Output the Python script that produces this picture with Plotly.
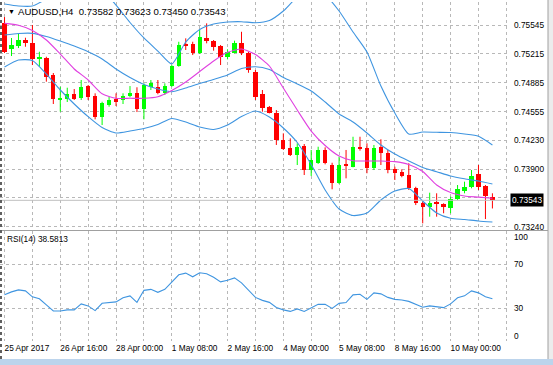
import plotly.graph_objects as go

# ---------------- data ----------------
opens = [0.75568, 0.75271, 0.75305, 0.75374, 0.75343, 0.75160, 0.75172, 0.74974, 0.74700, 0.74700,
         0.74754, 0.74708, 0.74848, 0.74734, 0.74498, 0.74631, 0.74697, 0.74689, 0.74734, 0.74772,
         0.74582, 0.74840, 0.74834, 0.74765, 0.74848, 0.75077, 0.75328, 0.75325, 0.75222, 0.75400,
         0.75366, 0.75305, 0.75183, 0.75229, 0.75343, 0.75229, 0.75012, 0.74754, 0.74605, 0.74544,
         0.74232, 0.74137, 0.74060, 0.74163, 0.73889, 0.73972, 0.74118, 0.73946, 0.73737, 0.73958,
         0.73927, 0.74155, 0.74137, 0.73909, 0.74155, 0.74080, 0.73897, 0.73870, 0.73832, 0.73680,
         0.73509, 0.73470, 0.73516, 0.73501, 0.73452, 0.73555, 0.73653, 0.73692, 0.73840, 0.73706,
         0.73582]
highs = [0.75636, 0.75397, 0.75454, 0.75400, 0.75545, 0.75240, 0.75183, 0.74997, 0.74840, 0.74829,
         0.74814, 0.74917, 0.74860, 0.74765, 0.74669, 0.74726, 0.74765, 0.74765, 0.74848, 0.74834,
         0.74879, 0.74917, 0.74917, 0.74879, 0.75088, 0.75354, 0.75393, 0.75354, 0.75488, 0.75564,
         0.75374, 0.75317, 0.75268, 0.75366, 0.75468, 0.75240, 0.75031, 0.74803, 0.74620, 0.74574,
         0.74308, 0.74251, 0.74194, 0.74186, 0.74118, 0.74155, 0.74148, 0.73972, 0.74041, 0.74118,
         0.74269, 0.74269, 0.74194, 0.74175, 0.74240, 0.74118, 0.73927, 0.73897, 0.73966, 0.73698,
         0.73527, 0.73630, 0.73623, 0.73509, 0.73585, 0.73718, 0.73756, 0.73889, 0.73946, 0.73718,
         0.73623]
lows = [0.75225, 0.75191, 0.75282, 0.75297, 0.75088, 0.75069, 0.74898, 0.74643, 0.74555, 0.74666,
        0.74689, 0.74689, 0.74689, 0.74468, 0.74403, 0.74612, 0.74620, 0.74643, 0.74719, 0.74551,
        0.74468, 0.74803, 0.74754, 0.74746, 0.74840, 0.75069, 0.75260, 0.75202, 0.75214, 0.75336,
        0.75252, 0.75088, 0.75153, 0.75222, 0.75202, 0.75000, 0.74689, 0.74555, 0.74536, 0.74175,
        0.74118, 0.74049, 0.73946, 0.73832, 0.73821, 0.73958, 0.73954, 0.73669, 0.73729, 0.73794,
        0.73920, 0.74110, 0.73852, 0.73889, 0.73946, 0.73852, 0.73775, 0.73806, 0.73661, 0.73489,
        0.73280, 0.73356, 0.73356, 0.73395, 0.73395, 0.73547, 0.73623, 0.73680, 0.73661, 0.73329,
        0.73450]
closes = [0.75237, 0.75317, 0.75374, 0.75339, 0.75153, 0.75176, 0.74955, 0.74697, 0.74711, 0.74754,
          0.74700, 0.74840, 0.74726, 0.74498, 0.74651, 0.74689, 0.74669, 0.74734, 0.74772, 0.74589,
          0.74860, 0.74879, 0.74765, 0.74848, 0.75077, 0.75317, 0.75305, 0.75222, 0.75405, 0.75366,
          0.75297, 0.75183, 0.75240, 0.75343, 0.75229, 0.75031, 0.74726, 0.74594, 0.74544, 0.74232,
          0.74129, 0.74060, 0.74155, 0.73889, 0.74003, 0.74118, 0.73966, 0.73737, 0.73946, 0.73938,
          0.74155, 0.74133, 0.73909, 0.74137, 0.74080, 0.73889, 0.73858, 0.73821, 0.73680, 0.73509,
          0.73470, 0.73516, 0.73501, 0.73463, 0.73555, 0.73669, 0.73698, 0.73821, 0.73698, 0.73592,
          0.73543]

# indicator lines, sampled every second bar
line_bars = list(range(0, 71, 2))
bb_upper = [0.75785, 0.75762, 0.75762, 0.75842, 0.75922, 0.75968, 0.75979, 0.75939, 0.75773, 0.75574,
            0.75397, 0.75248, 0.75100, 0.75351, 0.75494, 0.75556, 0.75579, 0.75583, 0.75571, 0.75596,
            0.75705, 0.75865, 0.75945, 0.75888, 0.75705, 0.75465, 0.75237, 0.74848, 0.74540, 0.74300,
            0.74323, 0.74320, 0.74317, 0.74300, 0.74274, 0.74175]
bb_middle = [0.75431, 0.75448, 0.75450, 0.75414, 0.75362, 0.75305, 0.75240, 0.75157, 0.75043, 0.74945,
             0.74866, 0.74814, 0.74783, 0.74826, 0.74877, 0.74923, 0.74974, 0.75048, 0.75069, 0.75037,
             0.74945, 0.74871, 0.74791, 0.74666, 0.74529, 0.74437, 0.74312, 0.74175, 0.74072, 0.73992,
             0.73918, 0.73870, 0.73821, 0.73789, 0.73763, 0.73729]
bb_lower = [0.75065, 0.75145, 0.75140, 0.74985, 0.74803, 0.74643, 0.74498, 0.74374, 0.74312, 0.74334,
            0.74363, 0.74409, 0.74477, 0.74437, 0.74380, 0.74352, 0.74403, 0.74500, 0.74563, 0.74494,
            0.74369, 0.74203, 0.73952, 0.73661, 0.73444, 0.73369, 0.73398, 0.73547, 0.73649, 0.73678,
            0.73535, 0.73398, 0.73338, 0.73324, 0.73307, 0.73295]
ma_line = [0.75564, 0.75542, 0.75482, 0.75374, 0.75214, 0.75043, 0.74917, 0.74760, 0.74708, 0.74708,
           0.74708, 0.74726, 0.74797, 0.74894, 0.75014, 0.75134, 0.75233, 0.75271, 0.75208, 0.75077,
           0.74826, 0.74574, 0.74334, 0.74169, 0.74049, 0.73995, 0.73992, 0.73992, 0.73985, 0.73952,
           0.73872, 0.73718, 0.73631, 0.73592, 0.73579, 0.73566]

rsi = [42.1, 44.8, 46.6, 45.7, 40.3, 38.5, 33.0, 27.5, 27.5, 28.5,
       28.5, 33.9, 32.1, 27.8, 34.5, 34.8, 35.7, 39.4, 41.2, 35.3,
       46.2, 47.1, 44.4, 47.1, 53.9, 60.3, 61.8, 58.5, 62.1, 61.2,
       58.0, 53.9, 55.3, 57.5, 53.0, 46.6, 39.8, 37.1, 35.3, 30.7,
       28.5, 27.1, 29.4, 27.1, 30.0, 33.5, 33.5, 29.8, 34.4, 35.1,
       42.1, 42.7, 38.0, 43.9, 43.0, 39.8, 38.0, 37.5, 36.2, 33.5,
       30.9, 32.1, 31.5, 30.5, 33.9, 39.4, 41.2, 45.7, 43.9, 40.3,
       38.58]

time_label_bars = [0, 8, 16, 24, 32, 40, 48, 56, 64]
time_labels = ["25 Apr 2017", "26 Apr 16:00", "28 Apr 00:00", "1 May 08:00", "2 May 16:00",
               "4 May 00:00", "5 May 08:00", "8 May 16:00", "10 May 00:00"]
price_ticks = [0.75545, 0.75215, 0.74885, 0.74555, 0.74230, 0.73900, 0.73570, 0.73240]
price_tick_text = ["0.75545", "0.75215", "0.74885", "0.74555", "0.74230", "0.73900", "", "0.73240"]
rsi_ticks = [70, 30]
last_price = 0.73543
title_text = "AUDUSD,H4&nbsp; 0.73582&nbsp;0.73623&nbsp;0.73450&nbsp;0.73543"
rsi_text = "RSI(14) 38.5813"

# ---------------- styling ----------------
W, H = 553, 365
FONT = "Liberation Sans"
FS = 8.3
UP, DOWN = "#00ff00", "#ff0000"
BAND = "#3f95e0"
MAG = "#e040e0"
GRID = "#b8b8b8"

def px(v):
    return v / W

def py(v):
    return 1 - v / H

n = len(opens)
xs = list(range(n))
fig = go.Figure()

# wicks
for col, cond in ((UP, lambda o, c: c >= o), (DOWN, lambda o, c: c < o)):
    wx, wy = [], []
    for i in xs:
        if cond(opens[i], closes[i]):
            wx += [i, i, None]
            wy += [lows[i], highs[i], None]
    fig.add_trace(go.Scatter(x=wx, y=wy, mode="lines", line=dict(color=col, width=1),
                             hoverinfo="skip", showlegend=False, xaxis="x", yaxis="y"))

# bodies
base = [min(o, c) for o, c in zip(opens, closes)]
height = [max(abs(c - o), 0.00009) for o, c in zip(opens, closes)]
colors = [UP if c >= o else DOWN for o, c in zip(opens, closes)]
fig.add_trace(go.Bar(x=xs, y=height, base=base, width=0.62, marker=dict(color=colors, line=dict(width=0)),
                     showlegend=False, xaxis="x", yaxis="y"))

for series, col in ((bb_upper, BAND), (bb_middle, BAND), (bb_lower, BAND), (ma_line, MAG)):
    fig.add_trace(go.Scatter(x=line_bars, y=series, mode="lines",
                             line=dict(color=col, width=1.1, shape="spline", smoothing=0.6),
                             showlegend=False, xaxis="x", yaxis="y"))

fig.add_trace(go.Scatter(x=xs, y=rsi, mode="lines", line=dict(color=BAND, width=1.1),
                         showlegend=False, xaxis="x2", yaxis="y2"))

XR = [-0.65, 72.38]
XDOM = [0, px(509)]
grid_x = list(range(0, 73, 4))
grid_text = []
for g in grid_x:
    grid_text.append(time_labels[time_label_bars.index(g)] if g in time_label_bars else "")

common_x = dict(range=XR, domain=XDOM, tickvals=grid_x, showgrid=True, gridcolor=GRID,
                griddash="3px,3px", gridwidth=1, zeroline=False, showline=False, ticks="",
                fixedrange=True, automargin=False)

fig.update_layout(
    width=W, height=H, margin=dict(l=0, r=0, t=0, b=0, autoexpand=False),
    paper_bgcolor="white", plot_bgcolor="white", bargap=0,
    font=dict(family=FONT, size=FS, color="black"),
    xaxis=dict(**common_x, anchor="y", showticklabels=False),
    xaxis2=dict(**common_x, anchor="y2", ticktext=grid_text, showticklabels=True, tickangle=0,
                ticklabelposition="outside right", tickfont=dict(size=FS)),
    yaxis=dict(domain=[py(230), py(2)], range=[0.73204, 0.75808], side="right",
               tickvals=price_ticks, ticktext=price_tick_text, showgrid=True, gridcolor=GRID,
               griddash="3px,3px", zeroline=False, showline=False, ticks="", ticklabelstandoff=4,
               anchor="x", automargin=False, fixedrange=True),
    yaxis2=dict(domain=[py(341.3), py(231)], range=[0, 100], side="right", tickvals=rsi_ticks,
                showgrid=True, gridcolor=GRID, griddash="3px,3px", zeroline=False, showline=False,
                ticks="", ticklabelstandoff=4, anchor="x2", automargin=False, fixedrange=True),
)

shapes = [
    # current price line
    dict(type="line", xref="paper", yref="y", x0=0, x1=px(509), y0=last_price, y1=last_price,
         line=dict(color="#c0c0c0", width=1)),
    # panel separator
    dict(type="line", xref="paper", yref="paper", x0=0, x1=px(548), y0=py(230.5), y1=py(230.5),
         line=dict(color="#a0a0a0", width=1)),
    # right frame
    dict(type="rect", xref="paper", yref="paper", x0=px(548), x1=1, y0=0, y1=1,
         fillcolor="#ececec", line=dict(width=0), layer="below"),
    dict(type="line", xref="paper", yref="paper", x0=px(548), x1=px(548), y0=0, y1=1,
         line=dict(color="#a0a0a0", width=1), layer="below"),
    # left frame
    dict(type="line", xref="paper", yref="paper", x0=px(1), x1=px(1), y0=0, y1=1,
         line=dict(color="#606060", width=2, dash="dot")),
    # bottom band
    dict(type="rect", xref="paper", yref="paper", x0=0, x1=1, y0=0, y1=py(359),
         fillcolor="#bcd4ec", line=dict(width=0)),
]
fig.update_layout(shapes=shapes)

annotations = [
    dict(text="\u25bc", xref="paper", yref="paper", x=px(6), y=py(12), xanchor="left",
         yanchor="middle", showarrow=False, font=dict(size=7)),
    dict(text=title_text, xref="paper", yref="paper", x=px(16), y=py(12), xanchor="left",
         yanchor="middle", showarrow=False, font=dict(size=9.6)),
    dict(text=rsi_text, xref="paper", yref="paper", x=px(5), y=py(239), xanchor="left",
         yanchor="middle", showarrow=False),
    dict(text="0.73543", xref="paper", yref="y", x=px(510), y=last_price, xanchor="left",
         yanchor="middle", showarrow=False, bgcolor="black", font=dict(color="white"), borderpad=1),
    dict(text="100", xref="paper", yref="paper", x=px(512), y=py(237), xanchor="left",
         yanchor="middle", showarrow=False),
    dict(text="0", xref="paper", yref="paper", x=px(512), y=py(336), xanchor="left",
         yanchor="middle", showarrow=False),
]
fig.update_layout(annotations=annotations)

fig.write_html("out.html", config={"displayModeBar": False},
               post_script="document.body.style.margin='0';document.body.style.overflow='hidden';")
